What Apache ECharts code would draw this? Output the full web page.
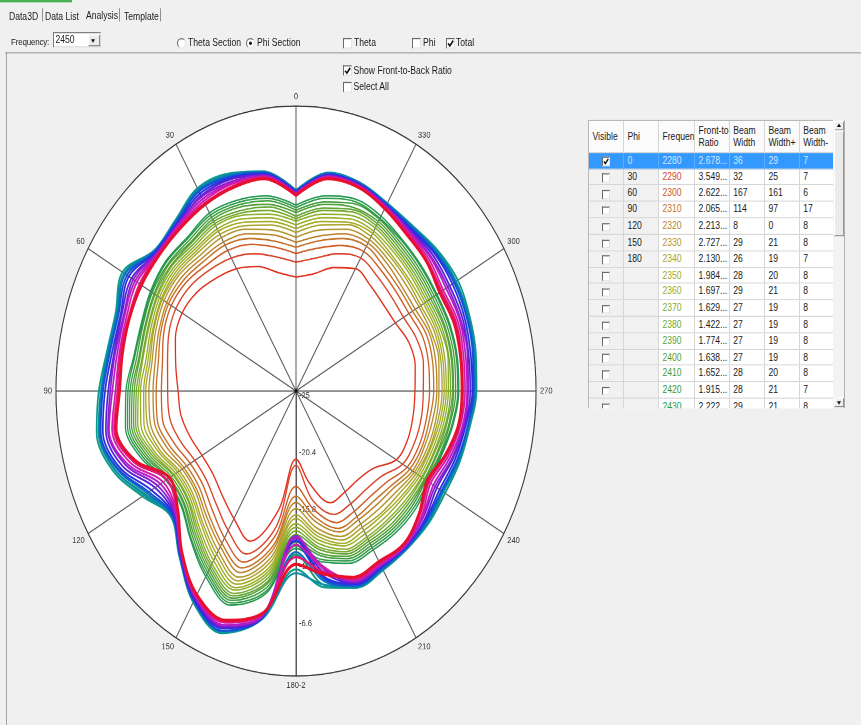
<!DOCTYPE html>
<html><head><meta charset="utf-8">
<script src="https://cdn.jsdelivr.net/npm/echarts/dist/echarts.min.js"></script>
<style>
html,body{margin:0;padding:0;}
body{width:861px;height:725px;background:#f0f0f0;overflow:hidden;position:relative;font-family:'Liberation Sans',Arial,sans-serif;font-size:8.6px;color:#1a1a1a;}
#wrap{position:absolute;left:0;top:0;width:861px;height:611px;transform:scaleY(1.187);transform-origin:0 0;}
.t{position:absolute;white-space:nowrap;line-height:10px;}
.cb{position:absolute;width:7px;height:7px;background:#fff;border:1px solid;border-color:#6a6a6a #e2e2e2 #e2e2e2 #6a6a6a;}
.cb svg{position:absolute;left:0;top:0;}
.rb{position:absolute;width:7px;height:7px;border-radius:50%;background:#fff;border:1px solid;border-color:#6a6a6a #e2e2e2 #e2e2e2 #6a6a6a;}
.rb.on::after{content:'';position:absolute;left:2px;top:2px;width:3px;height:3px;border-radius:50%;background:#111;}
.sep{position:absolute;width:1px;background:#8f8f8f;}
.cell{position:absolute;box-sizing:border-box;border-right:1px solid #d6d6d6;border-bottom:1px solid #d6d6d6;overflow:hidden;white-space:nowrap;padding-left:3.5px;}
</style></head>
<body>
<div id="wrap">
  <div id="chart" style="position:absolute;left:0;top:0;width:580px;height:611px;"></div>
  <div style="position:absolute;left:0;top:0;width:72px;height:1.5px;background:#48b050;"></div>
  <div class="t" style="left:9px;top:8.5px;">Data3D</div>
  <div class="sep" style="left:42px;top:7px;height:11px;"></div>
  <div class="t" style="left:45px;top:8.5px;">Data List</div>
  <div class="t" style="left:86px;top:7.6px;">Analysis</div>
  <div class="sep" style="left:119px;top:7px;height:11px;"></div>
  <div class="t" style="left:124px;top:8.5px;">Template</div>
  <div class="sep" style="left:160px;top:7px;height:11px;"></div>

  <div class="t" style="left:11px;top:31px;font-size:8px;letter-spacing:-0.2px;">Frequency:</div>
  <div style="position:absolute;left:53px;top:27px;width:48px;height:13px;background:#fff;border:1px solid;border-color:#7a7a7a #d8d8d8 #d8d8d8 #7a7a7a;box-sizing:border-box;"></div>
  <div class="t" style="left:55.5px;top:27.5px;">2450</div>
  <div style="position:absolute;left:87.5px;top:29px;width:12px;height:9.5px;background:#ececec;border:1px solid;border-color:#fdfdfd #8a8a8a #8a8a8a #fdfdfd;box-sizing:border-box;"></div>
  <div style="position:absolute;left:91px;top:32.5px;width:0;height:0;border-left:2.5px solid transparent;border-right:2.5px solid transparent;border-top:3px solid #111;"></div>

  <div class="rb" style="left:177px;top:31.5px;"></div>
  <div class="t" style="left:188px;top:31px;">Theta Section</div>
  <div class="rb on" style="left:246px;top:31.5px;"></div>
  <div class="t" style="left:257px;top:31px;">Phi Section</div>
  <div class="cb" style="left:343px;top:31.5px;"></div>
  <div class="t" style="left:354px;top:31px;">Theta</div>
  <div class="cb" style="left:412px;top:31.5px;"></div>
  <div class="t" style="left:423px;top:31px;">Phi</div>
  <div class="cb" style="left:446px;top:31.5px;"><svg width="7" height="7"><path d="M1 3.6 L2.9 5.6 L6.2 1.2" stroke="#111" stroke-width="1.5" fill="none"/></svg></div>
  <div class="t" style="left:456px;top:31px;">Total</div>

  <div style="position:absolute;left:5px;top:43.8px;width:856px;height:1px;background:#a3a3a3;"></div>
  <div style="position:absolute;left:5.5px;top:43.8px;width:1px;height:570px;background:#a3a3a3;"></div>

  <div class="cb" style="left:343px;top:55px;"><svg width="7" height="7"><path d="M1 3.6 L2.9 5.6 L6.2 1.2" stroke="#111" stroke-width="1.5" fill="none"/></svg></div>
  <div class="t" style="left:353.5px;top:54px;">Show Front-to-Back Ratio</div>
  <div class="cb" style="left:343px;top:69px;"></div>
  <div class="t" style="left:353.5px;top:68px;">Select All</div>

  <div id="tbl" style="position:absolute;left:588px;top:100.5px;width:245px;height:243.2px;overflow:hidden;background:#fff;border-top:1px solid #b8b8b8;border-left:1px solid #b8b8b8;box-sizing:border-box;"></div>
  <div style="position:absolute;left:833px;top:100.5px;width:12px;height:243.2px;background:#f3f3f3;border-right:1px solid #b0b0b0;box-sizing:border-box;"></div>
  <div style="position:absolute;left:834px;top:101.5px;width:10px;height:8px;background:#efefef;border:1px solid;border-color:#fff #8c8c8c #8c8c8c #fff;box-sizing:border-box;"></div>
  <div style="position:absolute;left:837px;top:103.8px;width:0;height:0;border-left:2.5px solid transparent;border-right:2.5px solid transparent;border-bottom:3px solid #111;"></div>
  <div style="position:absolute;left:834px;top:110px;width:10px;height:88.5px;background:#ebebeb;border:1px solid;border-color:#fff #9a9a9a #9a9a9a #fff;box-sizing:border-box;"></div>
  <div style="position:absolute;left:834px;top:335px;width:10px;height:8px;background:#efefef;border:1px solid;border-color:#fff #8c8c8c #8c8c8c #fff;box-sizing:border-box;"></div>
  <div style="position:absolute;left:837px;top:337.8px;width:0;height:0;border-left:2.5px solid transparent;border-right:2.5px solid transparent;border-top:3px solid #111;"></div>
</div>
<script>
// ---- polar pattern data (dB), one value per angle ----
const angles = [0,10,20,30,40,50,60,70,80,90,100,110,120,130,140,150,160,170,180,190,200,210,220,230,240,250,260,270,280,290,300,310,320,330,340,350];
const radiusTicks = [-25,-20.4,-15.8,-11.2,-6.6,-2];
const angleTicks = [0,30,60,90,120,150,180,210,240,270,300,330];
const freqs = [2280,2290,2300,2310,2320,2330,2340,2350,2360,2370,2380,2390,2400,2410,2420,2430,2440,2450,2460,2470,2480,2490,2500,2510,2520,2530,2540,2550];

const f2280 = [-15.8,-15.3,-14.3,-13.6,-13.1,-12.6,-12.4,-12.7,-13.3,-13.7,-13.8,-14.2,-14.6,-14.6,-14.0,-13.1,-12.1,-15.2,-19.5,-17.4,-15.4,-15.6,-15.7,-15.3,-13.9,-13.6,-13.6,-13.6,-13.4,-13.5,-14.0,-14.1,-13.9,-13.6,-14.4,-15.4];
const f2290 = [-14.6,-14.0,-13.2,-12.6,-12.2,-11.8,-11.7,-12.0,-12.5,-12.7,-12.7,-13.2,-13.8,-13.8,-13.1,-12.0,-11.0,-13.8,-19.0,-16.1,-14.4,-14.5,-14.6,-14.3,-13.2,-12.9,-12.8,-12.8,-12.6,-12.7,-13.1,-13.1,-12.9,-12.6,-13.2,-14.1];
const f2300 = [-13.9,-13.2,-12.4,-11.9,-11.7,-11.3,-11.2,-11.5,-12.0,-12.1,-12.0,-12.6,-13.3,-13.3,-12.5,-11.3,-10.3,-13.0,-17.3,-15.3,-13.7,-13.8,-13.9,-13.6,-12.7,-12.4,-12.3,-12.2,-12.1,-12.1,-12.5,-12.5,-12.3,-12.0,-12.5,-13.3];
const f2310 = [-13.4,-12.7,-11.9,-11.4,-11.3,-11.0,-10.9,-11.2,-11.6,-11.6,-11.5,-12.1,-12.9,-12.9,-12.0,-10.8,-9.8,-12.3,-16.5,-14.7,-13.2,-13.3,-13.4,-13.1,-12.4,-12.1,-12.0,-11.8,-11.7,-11.7,-12.1,-12.1,-11.9,-11.5,-11.9,-12.7];
const f2320 = [-13.0,-12.2,-11.5,-11.1,-11.0,-10.7,-10.7,-11.0,-11.3,-11.3,-11.2,-11.8,-12.6,-12.6,-11.7,-10.5,-9.4,-11.9,-16.0,-14.3,-12.9,-13.0,-13.0,-12.8,-12.1,-11.9,-11.7,-11.5,-11.4,-11.4,-11.8,-11.8,-11.5,-11.2,-11.5,-12.3];
const f2330 = [-12.6,-11.8,-11.1,-10.7,-10.7,-10.4,-10.4,-10.7,-11.0,-10.9,-10.8,-11.4,-12.4,-12.4,-11.4,-10.1,-9.0,-11.4,-15.5,-13.8,-12.5,-12.6,-12.6,-12.4,-11.9,-11.6,-11.4,-11.3,-11.1,-11.2,-11.4,-11.4,-11.2,-10.9,-11.1,-11.8];
const f2340 = [-12.2,-11.4,-10.8,-10.4,-10.4,-10.2,-10.2,-10.5,-10.8,-10.6,-10.5,-11.1,-12.1,-12.1,-11.1,-9.8,-8.7,-11.0,-15.0,-13.4,-12.2,-12.3,-12.2,-12.1,-11.7,-11.4,-11.2,-11.0,-10.9,-10.9,-11.2,-11.1,-10.9,-10.6,-10.7,-11.4];
const f2350 = [-11.9,-11.1,-10.5,-10.1,-10.2,-10.0,-10.1,-10.4,-10.6,-10.4,-10.2,-10.9,-11.9,-11.9,-10.9,-9.5,-8.4,-10.6,-14.7,-13.1,-11.9,-12.0,-12.0,-11.8,-11.5,-11.3,-11.0,-10.8,-10.7,-10.7,-10.9,-10.9,-10.7,-10.3,-10.5,-11.1];
const f2360 = [-11.6,-10.8,-10.2,-9.9,-10.0,-9.8,-9.9,-10.2,-10.4,-10.1,-9.9,-10.6,-11.7,-11.7,-10.6,-9.2,-8.1,-10.3,-14.3,-12.8,-11.7,-11.7,-11.7,-11.6,-11.3,-11.1,-10.8,-10.6,-10.5,-10.5,-10.7,-10.6,-10.4,-10.1,-10.2,-10.8];
const f2370 = [-11.3,-10.5,-9.9,-9.6,-9.8,-9.6,-9.7,-10.0,-10.1,-9.9,-9.6,-10.4,-11.5,-11.5,-10.4,-8.9,-7.9,-10.0,-14.0,-12.5,-11.4,-11.4,-11.4,-11.3,-11.1,-10.9,-10.6,-10.4,-10.2,-10.3,-10.5,-10.4,-10.2,-9.8,-9.9,-10.5];
const f2380 = [-11.1,-10.2,-9.7,-9.4,-9.6,-9.4,-9.6,-9.9,-10.0,-9.7,-9.4,-10.2,-11.4,-11.4,-10.2,-8.7,-7.6,-9.7,-13.7,-12.2,-11.2,-11.2,-11.2,-11.1,-11.0,-10.8,-10.4,-10.2,-10.1,-10.1,-10.3,-10.2,-10.0,-9.6,-9.6,-10.2];
const f2390 = [-10.9,-9.9,-9.5,-9.2,-9.4,-9.3,-9.4,-9.7,-9.8,-9.5,-9.2,-10.0,-11.2,-11.2,-10.0,-8.5,-7.4,-9.4,-13.4,-12.0,-11.0,-11.0,-10.9,-10.9,-10.8,-10.6,-10.3,-10.0,-9.9,-9.9,-10.1,-10.0,-9.8,-9.4,-9.4,-10.0];
const f2400 = [-10.6,-9.7,-9.2,-9.0,-9.3,-9.1,-9.3,-9.6,-9.7,-9.3,-9.0,-9.8,-11.0,-11.0,-9.8,-8.3,-7.2,-9.2,-13.1,-11.7,-10.8,-10.8,-10.7,-10.7,-10.7,-10.5,-10.1,-9.9,-9.8,-9.8,-9.9,-9.8,-9.6,-9.2,-9.2,-9.7];
const f2410 = [-10.4,-9.4,-9.0,-8.8,-9.1,-9.0,-9.1,-9.4,-9.5,-9.1,-8.8,-9.6,-10.9,-10.9,-9.6,-8.1,-7.0,-8.9,-12.8,-11.5,-10.6,-10.6,-10.5,-10.5,-10.6,-10.3,-10.0,-9.7,-9.6,-9.6,-9.7,-9.6,-9.4,-9.0,-8.9,-9.5];
const f2420 = [-10.2,-9.2,-8.8,-8.6,-8.9,-8.8,-9.0,-9.3,-9.3,-8.9,-8.6,-9.4,-10.7,-10.7,-9.4,-7.9,-6.8,-8.6,-12.5,-11.2,-10.4,-10.4,-10.3,-10.3,-10.4,-10.2,-9.8,-9.5,-9.4,-9.4,-9.5,-9.4,-9.2,-8.9,-8.7,-9.2];
const f2430 = [-10.0,-9.0,-8.6,-8.4,-8.8,-8.7,-8.9,-9.2,-9.2,-8.7,-8.4,-9.2,-10.6,-10.6,-9.3,-7.7,-6.6,-8.4,-12.3,-11.0,-10.2,-10.2,-10.1,-10.1,-10.3,-10.1,-9.7,-9.4,-9.3,-9.3,-9.4,-9.3,-9.1,-8.7,-8.5,-9.0];
const f2440 = [-8.8,-7.1,-6.4,-6.2,-7.1,-7.4,-6.0,-6.7,-6.8,-6.3,-5.8,-6.5,-8.3,-9.4,-7.6,-5.4,-4.3,-6.4,-11.8,-9.1,-8.2,-8.4,-8.5,-8.5,-8.7,-8.5,-8.2,-7.8,-7.7,-7.5,-7.3,-7.4,-7.7,-7.6,-7.1,-7.2];
const f2450 = [-8.8,-7.0,-6.3,-6.1,-7.0,-7.3,-5.8,-6.6,-6.6,-6.1,-5.6,-6.3,-8.0,-9.3,-7.6,-5.3,-4.2,-6.3,-10.6,-8.9,-8.1,-8.3,-8.4,-8.4,-8.5,-8.3,-8.1,-7.7,-7.5,-7.3,-7.1,-7.3,-7.6,-7.5,-7.1,-7.1];
const f2460 = [-8.8,-7.0,-6.4,-6.2,-7.1,-7.3,-6.0,-6.7,-6.7,-6.3,-5.8,-6.5,-8.2,-9.4,-7.6,-5.4,-4.3,-6.3,-10.3,-9.1,-8.2,-8.4,-8.4,-8.5,-8.7,-8.4,-8.2,-7.8,-7.6,-7.4,-7.3,-7.4,-7.7,-7.5,-7.1,-7.1];
const f2470 = [-8.9,-7.1,-6.5,-6.3,-7.1,-7.4,-6.1,-6.8,-6.8,-6.4,-5.9,-6.7,-8.5,-9.4,-7.7,-5.4,-4.4,-6.4,-12.0,-9.4,-8.2,-8.4,-8.5,-8.6,-8.8,-8.5,-8.3,-7.9,-7.7,-7.5,-7.4,-7.5,-7.7,-7.6,-7.2,-7.2];
const f2480 = [-8.9,-7.1,-6.6,-6.4,-7.2,-7.4,-6.3,-6.9,-6.9,-6.5,-6.0,-6.8,-8.7,-9.5,-7.7,-5.5,-4.4,-6.4,-12.6,-9.6,-8.3,-8.5,-8.5,-8.7,-8.9,-8.6,-8.3,-8.0,-7.8,-7.6,-7.5,-7.6,-7.8,-7.6,-7.2,-7.2];
const f2490 = [-8.9,-7.2,-6.7,-6.6,-7.3,-7.5,-6.5,-7.1,-7.1,-6.7,-6.2,-7.0,-9.0,-9.6,-7.7,-5.5,-4.6,-6.5,-12.9,-9.8,-8.4,-8.6,-8.6,-8.8,-9.1,-8.8,-8.5,-8.1,-8.0,-7.8,-7.7,-7.7,-7.9,-7.7,-7.2,-7.3];
const f2500 = [-9.0,-7.3,-6.8,-6.8,-7.4,-7.6,-6.8,-7.2,-7.3,-7.0,-6.5,-7.3,-9.4,-9.7,-7.8,-5.6,-4.7,-6.5,-13.1,-10.2,-8.5,-8.7,-8.6,-8.9,-9.4,-9.0,-8.6,-8.3,-8.2,-8.0,-8.0,-7.9,-8.0,-7.7,-7.3,-7.3];
const f2510 = [-9.0,-7.3,-7.0,-6.9,-7.4,-7.6,-7.0,-7.4,-7.4,-7.2,-6.7,-7.6,-9.7,-9.8,-7.8,-5.7,-4.8,-6.6,-13.3,-10.5,-8.6,-8.7,-8.7,-9.1,-9.6,-9.1,-8.7,-8.5,-8.3,-8.2,-8.2,-8.1,-8.1,-7.8,-7.3,-7.4];
const f2520 = [-9.1,-7.4,-7.1,-7.1,-7.5,-7.7,-7.2,-7.5,-7.6,-7.4,-6.8,-7.8,-10.0,-9.9,-7.9,-5.8,-4.9,-6.6,-13.2,-10.7,-8.7,-8.8,-8.7,-9.2,-9.8,-9.3,-8.8,-8.6,-8.5,-8.3,-8.4,-8.2,-8.2,-7.8,-7.4,-7.4];
const f2530 = [-9.1,-7.5,-7.2,-7.3,-7.6,-7.8,-7.4,-7.7,-7.8,-7.7,-7.1,-8.1,-10.3,-10.0,-7.9,-5.8,-5.1,-6.7,-12.6,-10.6,-8.8,-8.9,-8.8,-9.3,-10.1,-9.5,-9.0,-8.8,-8.7,-8.5,-8.7,-8.4,-8.3,-7.9,-7.4,-7.5];
const f2540 = [-9.2,-7.5,-7.4,-7.5,-7.7,-7.8,-7.7,-7.9,-7.9,-7.9,-7.3,-8.4,-10.7,-10.1,-8.0,-5.9,-5.2,-6.8,-11.6,-10.2,-8.9,-9.0,-8.9,-9.5,-10.3,-9.7,-9.1,-9.0,-8.9,-8.7,-8.9,-8.6,-8.4,-7.9,-7.5,-7.5];
const f2550 = [-9.2,-7.6,-7.5,-7.6,-7.8,-7.9,-7.9,-8.0,-8.1,-8.1,-7.5,-8.6,-11.0,-10.2,-8.0,-6.0,-5.3,-6.8,-11.0,-10.0,-9.0,-9.1,-8.9,-9.6,-10.5,-9.8,-9.2,-9.1,-9.0,-8.9,-9.1,-8.7,-8.5,-8.0,-7.5,-7.6];

const seriesValues = [f2280,f2290,f2300,f2310,f2320,f2330,f2340,f2350,f2360,f2370,f2380,f2390,f2400,f2410,f2420,f2430,f2440,f2450,f2460,f2470,f2480,f2490,f2500,f2510,f2520,f2530,f2540,f2550];
const lineColors = ['#e2301c','#d9452a','#cf5c24','#c57226','#bb8328','#b2942a','#aaa32a','#a4ab24','#98ae26','#88ae2a','#74a92e','#62a432','#50a037','#3f9c3e','#2f9a47','#229850',
  '#129b6a','#0a9a88','#0a8ea8','#0b72c2','#154fd8','#2a2fe0','#5a22d6','#8a1ed0','#b41ec6','#d41ca6','#e3157a','#e80f2c'];

// ---- table data ----
const tableHeaders = [['Visible'],['Phi'],['Frequency'],['Front-to-Back','Ratio'],['Beam','Width'],['Beam','Width+'],['Beam','Width-']];
const tablePhi = ['0','30','60','90','120','150','180','','','','','','','','',''];
const tableFreq = [2280,2290,2300,2310,2320,2330,2340,2350,2360,2370,2380,2390,2400,2410,2420,2430];
const tableRatio = ['2.678...','3.549...','2.622...','2.065...','2.213...','2.727...','2.130...','1.984...','1.697...','1.629...','1.422...','1.774...','1.638...','1.652...','1.915...','2.222...'];
const tableBW = [36,32,167,114,8,29,26,28,29,27,27,27,27,28,28,29];
const tableBWp = [29,25,161,97,0,21,19,20,21,19,19,19,19,20,21,21];
const tableBWm = [7,7,6,17,8,8,7,8,8,8,8,8,8,8,7,8];

// ---- build table ----
(function(){
  const colL = [0,35,70,106,140.7,176,210.7,245];
  const hH = 27.3, rH = 13.82;
  let h = '';
  for (let c = 0; c < 7; c++) {
    const w = colL[c+1]-colL[c];
    const lines = tableHeaders[c];
    let inner;
    if (lines.length === 1) inner = '<div style="position:absolute;left:3.5px;top:' + (hH/2-5) + 'px;line-height:10px;">' + lines[0] + '</div>';
    else inner = '<div style="position:absolute;left:3.5px;top:3px;line-height:10px;">' + lines[0] + '</div><div style="position:absolute;left:3.5px;top:13.5px;line-height:10px;">' + lines[1] + '</div>';
    h += '<div class="cell" style="left:' + colL[c] + 'px;top:0;width:' + w + 'px;height:' + hH + 'px;background:#fbfbfb;padding:0;">' + inner + '</div>';
  }
  for (let r = 0; r < tableFreq.length; r++) {
    const sel = r === 0;
    const top = hH + r*rH;
    const vals = ['', tablePhi[r], String(tableFreq[r]), tableRatio[r], String(tableBW[r]), String(tableBWp[r]), String(tableBWm[r])];
    for (let c = 0; c < 7; c++) {
      const w = colL[c+1]-colL[c];
      let bg = sel ? '#3399ff' : (c < 2 ? '#f1f1f1' : '#ffffff');
      let col = sel ? '#cfe6ff' : (c === 2 ? lineColors[r] : '#1a1a1a');
      let content = vals[c];
      if (c === 0) {
        const chk = sel ? '<svg width="6" height="6" style="position:absolute;left:0;top:0"><path d="M0.8 3 L2.4 4.8 L5.3 1" stroke="#111" stroke-width="1.3" fill="none"/></svg>' : '';
        content = '<div style="position:absolute;left:13px;top:' + (rH/2-3.3) + 'px;width:5.5px;height:5.5px;background:#fff;border:1px solid;border-color:#6a6a6a #e4e4e4 #e4e4e4 #6a6a6a;">' + chk + '</div>';
      }
      h += '<div class="cell" style="left:' + colL[c] + 'px;top:' + top + 'px;width:' + w + 'px;height:' + rH + 'px;line-height:' + rH + 'px;background:' + bg + ';color:' + col + ';border-right-color:' + (sel ? '#5aaeff' : '#d6d6d6') + ';">' + content + '</div>';
    }
  }
  document.getElementById('tbl').innerHTML = h;
})();

// ---- chart ----
const chart = echarts.init(document.getElementById('chart'), null, {devicePixelRatio: 2});
const lab = {color:'#333', fontSize:7.5, fontFamily:'Liberation Sans, Arial, sans-serif'};
const rMax = radiusTicks[radiusTicks.length-1];
const series = freqs.map((f, i) => {
  const vals = seriesValues[i];
  const pts = angles.map((a, k) => [vals[k], (a + 180) % 360]);
  pts.push([vals[0], (angles[0] + 180) % 360]);
  return {
    type: 'line', coordinateSystem: 'polar', name: String(f),
    data: pts, symbol: 'none', showSymbol: false, smooth: 0.35,
    lineStyle: {color: lineColors[i], width: i === freqs.length-1 ? 2.6 : (i === freqs.length-2 ? 2.0 : (i >= 16 ? 1.7 : 1.3))},
    silent: true, animation: false
  };
});
chart.setOption({
  animation: false,
  polar: {center: [296, 329.4], radius: 240},
  angleAxis: {
    type: 'value', min: 0, max: 360, interval: 30, startAngle: -90, clockwise: false,
    axisLine: {show: true, lineStyle: {color: '#3a3a3a', width: 1}},
    axisTick: {show: false},
    axisLabel: Object.assign({}, lab, {margin: 4,
      formatter: v => {
        if (v === 360) return '';
        const a = (v + 180) % 360;
        if (angleTicks.indexOf(a) < 0) return '';
        // bottom spoke carries the outer radius value next to the angle, as in the original
        return a === 180 ? '180' + String(rMax) : String(a);
      }
    }),
    splitLine: {show: true, lineStyle: {color: '#5a5a5a', width: 1}}
  },
  radiusAxis: {
    type: 'value', min: radiusTicks[0], max: rMax, interval: 4.6,
    axisLine: {show: true, lineStyle: {color: '#5a5a5a', width: 1}},
    axisTick: {show: false},
    axisLabel: Object.assign({}, lab, {margin: 3, verticalAlign: 'top', align: 'left',
      formatter: v => { const r = Math.round(v*10)/10; return r === rMax ? '' : String(r); }}),
    splitLine: {show: true, lineStyle: {color: '#3a3a3a', width: 1}},
    splitArea: {show: true, areaStyle: {color: ['#ffffff']}}
  },
  series: series.concat([{
    type: 'scatter', coordinateSystem: 'polar', data: [[radiusTicks[0], 0]],
    symbolSize: 3, itemStyle: {color: '#000'}, silent: true, z: 5
  }])
});
</script>
</body></html>
